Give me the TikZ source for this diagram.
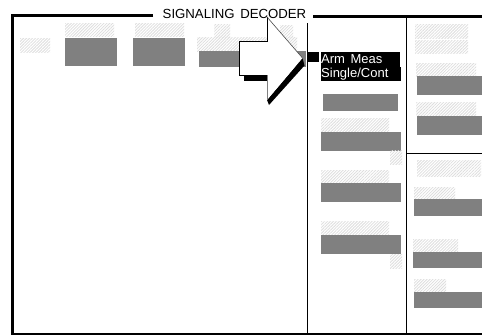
\documentclass[tikz,border=0pt]{standalone}
\usepackage{fontspec}
\setmainfont{Liberation Sans}
\usetikzlibrary{patterns.meta}
\tikzset{
  hatchbox/.style={pattern={Lines[angle=45,distance=2.1pt,line width=0.8pt]},pattern color=black!13},
  graybox/.style={fill=black!50},
  frameline/.style={draw=black,line width=3pt},
  divider/.style={draw=black,line width=1.5pt},
  softkey/.style={anchor=west,text=white,font=\fontsize{13}{13}\selectfont,inner sep=0pt}
}
\newcommand{\hb}[4]{\fill[hatchbox] (#1,#2) rectangle (#3,#4);}
\newcommand{\gb}[4]{\fill[graybox] (#1,#2) rectangle (#3,#4);}
\begin{document}
\begin{tikzpicture}[x=1pt,y=-1pt]
\useasboundingbox (0,0) rectangle (482,335);
\fill[white] (0,0) rectangle (482,335);
% frame
\draw[frameline] (153,15.5) -- (12.5,15.5) -- (12.5,334);
\draw[frameline] (313,16) -- (482,16);
\draw[divider] (11,334) -- (482,334);
\draw[divider] (307.5,23) -- (307.5,334);
\draw[divider] (406.5,17) -- (406.5,334);
\draw[divider] (406.5,153.5) -- (482,153.5);
\node[anchor=base,inner sep=0pt,font=\fontsize{13.2}{13}\selectfont] (title) at (234.5,18) {SIGNALING\hspace{2pt} DECODER};
% top row
\hb{20}{38}{50}{52}
\hb{65}{23}{114}{36} \gb{65}{38}{117}{66}
\hb{135}{23}{184}{36} \gb{133}{38}{185}{66}
\hb{214}{24}{230}{37} \hb{280}{25}{293}{37} \hb{197}{37}{297}{51}
\gb{199}{51}{306}{67}
% middle column
\gb{323}{94}{398}{111}
\hb{321}{118}{389}{132} \gb{321}{132}{401}{151} \hb{390}{150}{402}{164}
\hb{321}{170}{389}{183} \gb{321}{183}{401}{202}
\hb{321}{221}{389}{234} \gb{321}{235}{401}{254} \hb{390}{254}{402}{268}
% right column
\hb{415}{24}{468}{38} \hb{415}{40}{468}{53}
\hb{416}{63}{476}{76} \gb{417}{76}{482}{95}
\hb{416}{102}{476}{115} \gb{417}{116}{482}{135}
\hb{417}{160}{481}{176}
\hb{414}{187}{455}{199} \gb{414}{199}{482}{216}
\hb{413}{239}{458}{252} \gb{413}{252}{482}{268}
\hb{414}{279}{446}{292} \gb{414}{292}{482}{308}
% selected softkey
\fill[black] (307,52) rectangle (319,62);
\fill[black] (321,52) rectangle (400,67);
\fill[black] (321,67) rectangle (401,81);
\node[softkey] (arm) at (321,59.5) {Arm\hspace{2pt} Meas};
\node[softkey] (single) at (321,74) {Single/Cont};
% arrow
\fill[black] (244,75) rectangle (267,80.5);
\fill[black] (302.5,58) -- (304.5,65.5) -- (269,105) -- (267,100) -- cycle;
\fill[white] (267,17) -- (302.5,58) -- (267,100) -- (267,75) -- (239,75) -- (239,41) -- (267,41) -- cycle;
\draw[black,line width=0.8pt] (267,75) -- (239,75) -- (239,41) -- (267,41) -- (267,17);
\draw[black!70,line width=0.6pt] (267,17) -- (302.5,58);
\draw[black!50,line width=0.8pt] (267,75) -- (267,100);
\end{tikzpicture}
\end{document}
